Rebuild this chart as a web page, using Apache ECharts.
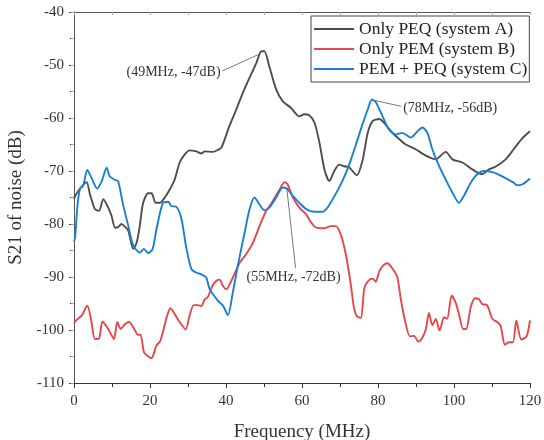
<!DOCTYPE html>
<html>
<head>
<meta charset="utf-8">
<script src="https://cdn.jsdelivr.net/npm/echarts@6/dist/echarts.min.js"></script>
<style>
html,body{margin:0;padding:0;background:#fff;}
#chart{width:544px;height:440px;}
</style>
</head>
<body>
<div id="chart"></div>
<script>
// ---- Data (frequency MHz, S21 dB) ----
var legendNames = ['Only PEQ (system A)', 'Only PEM (system B)', 'PEM + PEQ (system C)'];
var xTicks = [0, 20, 40, 60, 80, 100, 120];
var yTicks = [-110, -100, -90, -80, -70, -60, -50, -40];

var seriesA = [[0,-75.2],[0.3,-74.7],[1.6,-73.3],[3.3,-72.1],[4.2,-74.4],[5.5,-77.2],[6.6,-77.5],[7.7,-75.3],[9.0,-76.9],[9.9,-78.5],[10.8,-80.7],[11.6,-80.6],[12.5,-80.0],[13.4,-80.5],[14.3,-81.3],[15.6,-84.7],[16.5,-83.5],[17.3,-80.4],[18.2,-76.0],[19.5,-74.2],[20.4,-74.2],[21.5,-76.0],[22.6,-76.0],[23.9,-75.0],[25.2,-73.5],[26.5,-71.6],[27.8,-68.4],[29.1,-66.9],[30.4,-66.1],[32.2,-66.3],[33.5,-66.7],[34.4,-66.3],[36.6,-66.4],[37.9,-66.0],[38.8,-65.6],[40.9,-61.5],[42.7,-58.4],[44.4,-55.3],[46.2,-52.4],[48.0,-49.6],[49.3,-47.4],[50.1,-47.4],[51.4,-50.3],[53.2,-54.6],[54.9,-56.8],[57.1,-58.1],[59.3,-59.7],[60.6,-59.3],[61.9,-59.5],[63.3,-60.9],[64.6,-64.7],[65.9,-69.7],[67.2,-71.9],[68.5,-70.0],[69.8,-68.8],[71.1,-69.1],[72.4,-69.3],[74.4,-70.8],[75.9,-68.1],[77.3,-62.8],[78.6,-60.6],[80.3,-60.2],[81.6,-60.9],[83.4,-62.5],[85.6,-64.0],[87.3,-65.0],[89.9,-65.9],[92.6,-67.1],[95.2,-67.8],[97.8,-66.4],[99.6,-67.8],[102.2,-68.4],[104.8,-69.7],[107.4,-70.6],[109.2,-69.7],[110.9,-69.2],[113.6,-67.8],[115.7,-65.9],[118,-63.8],[120,-62.5]];

var seriesB = [[0,-98.8],[0.5,-98.2],[2.0,-97.3],[3.5,-95.4],[4.6,-98.5],[5.5,-101.7],[6.6,-101.6],[7.5,-98.4],[9.0,-99.8],[10.5,-101.7],[11.4,-98.5],[12.3,-99.8],[13.4,-98.9],[14.5,-98.5],[15.6,-99.5],[16.9,-100.9],[17.5,-100.9],[18.4,-104.2],[19.2,-104.8],[20.4,-105.3],[21.7,-102.9],[22.6,-102.2],[23.4,-100.4],[24.5,-97.3],[25.4,-95.9],[26.5,-97.0],[27.8,-98.5],[29.4,-99.9],[30.4,-97.3],[31.5,-95.3],[32.6,-95.3],[33.5,-95.5],[34.4,-94.2],[35.2,-93.8],[36.4,-91.7],[37.5,-90.7],[38.3,-90.5],[39.2,-91.7],[40.1,-92.3],[41.8,-90.1],[43.6,-87.3],[45.3,-85.7],[47.1,-83.5],[48.8,-80.4],[50.6,-77.5],[52.3,-75.7],[54.1,-73.5],[55.4,-72.1],[56.2,-72.5],[57.6,-75.0],[59.3,-76.9],[61.1,-78.2],[62.4,-79.7],[63.7,-80.7],[65.9,-80.8],[67.6,-80.4],[68.9,-80.4],[70.3,-82.2],[71.6,-86.0],[72.9,-91.7],[73.6,-95.5],[74.4,-97.4],[75.5,-97.7],[76.4,-92.1],[77.5,-90.7],[78.6,-90.3],[79.4,-90.9],[80.3,-89.0],[81.4,-87.8],[82.5,-87.4],[83.8,-88.4],[85.1,-90.1],[86.0,-94.2],[87.1,-98.2],[88.4,-101.2],[89.5,-101.1],[90.6,-102.2],[91.7,-101.4],[92.6,-99.8],[93.4,-96.8],[94.3,-99.1],[95.2,-97.9],[96.2,-100.1],[97.4,-97.6],[98.2,-97.9],[99.4,-93.5],[100.4,-94.8],[101.3,-97.0],[102.4,-99.8],[103.2,-99.8],[104.4,-95.7],[105.5,-94.0],[106.6,-94.2],[107.4,-95.1],[108.7,-95.3],[110.1,-97.9],[111.4,-98.5],[112.3,-99.3],[113.4,-102.8],[114.4,-102.3],[115.5,-102.3],[116.4,-98.2],[117.7,-101.8],[119.1,-101.2],[120,-98.2]];

var seriesC = [[0,-83.3],[0.3,-82.5],[0.9,-76.6],[1.6,-73.3],[2.4,-72.8],[3.5,-69.8],[4.6,-71.3],[6.1,-73.3],[7.3,-71.9],[8.6,-69.4],[9.4,-71.0],[10.8,-71.7],[11.6,-71.9],[12.9,-76.3],[14.3,-80.4],[15.6,-84.1],[17.3,-85.4],[18.4,-84.7],[19.5,-85.5],[20.7,-84.7],[21.7,-81.0],[23.4,-76.0],[24.8,-75.8],[25.6,-76.6],[27.0,-76.8],[28.3,-79.1],[29.6,-84.7],[30.9,-88.5],[32.0,-89.1],[33.5,-89.5],[34.8,-90.1],[35.7,-92.3],[37.9,-94.5],[39.2,-95.4],[40.5,-97.2],[41.8,-92.9],[43.1,-87.9],[44.9,-81.6],[46.2,-77.2],[47.5,-75.0],[48.8,-76.3],[50.1,-77.4],[51.4,-76.9],[53.2,-75.0],[54.9,-73.1],[56.0,-73.3],[57.6,-74.7],[59.3,-76.0],[61.1,-77.2],[63.3,-77.7],[65.4,-77.7],[66.7,-76.9],[68.1,-75.3],[69.8,-73.1],[71.6,-70.3],[72.9,-67.8],[74.2,-65.0],[75.9,-61.2],[77.3,-58.4],[78.4,-56.5],[79.4,-57.0],[81.2,-59.7],[82.9,-62.2],[84.7,-63.1],[86.4,-62.8],[88.6,-63.7],[90.4,-62.5],[91.7,-61.8],[93.0,-62.8],[94.3,-65.9],[96.1,-69.1],[97.8,-71.6],[99.6,-74.1],[101.3,-76.0],[102.6,-74.7],[104.4,-72.2],[106.1,-70.6],[107.9,-70.0],[110.1,-70.2],[112.7,-71.0],[115.7,-72.2],[116.6,-72.7],[118,-72.5],[120,-71.4]];

// annotations: [label, peak point, text anchor point]
var annotA = ['(49MHz, -47dB)', [48.6, -48.0], [39.1, -51.1]];
var annotC = ['(78MHz, -56dB)', [79.2, -56.7], [86.1, -57.8]];
var annotB = ['(55MHz, -72dB)', [56.0, -73.3], [58.3, -88.3]];

var colors = ['#4d4d4d', '#e5474b', '#1a7fd4'];
var serif = '"Liberation Serif", "DejaVu Serif", serif';

function annot(a, align, dx, dy) {
  return {
    markLine: {
      silent: true, symbol: 'none', animation: false,
      lineStyle: {color: '#555', width: 0.8, type: 'solid'},
      label: {show: false},
      data: [[{coord: a[1]}, {coord: a[2]}]]
    },
    markPoint: {
      silent: true, symbol: 'circle', symbolSize: 0, animation: false,
      label: {show: true, formatter: a[0], fontFamily: serif, fontSize: 14, color: '#333',
              align: align, verticalAlign: 'middle', offset: [dx, dy]},
      data: [{coord: a[2]}]
    }
  };
}

var chart = echarts.init(document.getElementById('chart'), null, {renderer: 'canvas'});

function mk(name, data, color, an) {
  var s = {
    name: name, type: 'line', data: data, symbol: 'none', smooth: 0.25,
    lineStyle: {color: color, width: 1.9}, itemStyle: {color: color},
    animation: false, z: 2
  };
  if (an) { s.markLine = an.markLine; s.markPoint = an.markPoint; }
  return s;
}

var option = {
  backgroundColor: '#fff',
  grid: {left: 74, right: 14, top: 12, bottom: 57, outerBoundsMode: 'none', containLabel: false},
  legend: {
    data: legendNames.map(function (n) { return {name: n, icon: 'rect'}; }),
    orient: 'vertical', left: 311, top: 16,
    backgroundColor: '#fff',
    borderColor: '#444', borderWidth: 1, borderRadius: 0,
    padding: [4, 2, 4, 3], itemWidth: 40, itemHeight: 2, itemGap: 2,
    textStyle: {fontFamily: serif, fontSize: 17.5, color: '#222', lineHeight: 18}
  },
  xAxis: [{
    type: 'value', min: 0, max: 120, interval: 20,
    name: 'Frequency (MHz)', nameLocation: 'middle', nameGap: 40,
    nameTextStyle: {fontFamily: serif, fontSize: 19, color: '#333'},
    axisLine: {show: true, lineStyle: {color: '#333', width: 1}},
    axisTick: {show: true, length: 5, lineStyle: {color: '#333'}},
    minorTick: {show: true, splitNumber: 2, length: 4, lineStyle: {color: '#333'}},
    axisLabel: {fontFamily: serif, fontSize: 15, color: '#333', margin: 11,
      formatter: function (v) { return xTicks.indexOf(v) >= 0 ? String(v) : ''; }},
    splitLine: {show: false}
  }, {
    type: 'value', min: 0, max: 120, interval: 20, position: 'top',
    axisLine: {show: true, lineStyle: {color: '#555', width: 1}},
    axisTick: {show: true, inside: true, length: 3, lineStyle: {color: '#aaa'}},
    minorTick: {show: true, splitNumber: 2, length: 3, lineStyle: {color: '#aaa'}},
    axisLabel: {show: false}, splitLine: {show: false}
  }],
  yAxis: [{
    type: 'value', min: -110, max: -40, interval: 10,
    name: 'S21 of noise (dB)', nameLocation: 'middle', nameGap: 47,
    nameTextStyle: {fontFamily: serif, fontSize: 19, color: '#333'},
    axisLine: {show: true, lineStyle: {color: '#333', width: 1}},
    axisTick: {show: true, length: 5, lineStyle: {color: '#333'}},
    minorTick: {show: true, splitNumber: 2, length: 4, lineStyle: {color: '#333'}},
    axisLabel: {fontFamily: serif, fontSize: 15, color: '#333', margin: 10,
      formatter: function (v) { return yTicks.indexOf(v) >= 0 ? String(v) : ''; }},
    splitLine: {show: false}
  }, {
    type: 'value', min: -110, max: -40, interval: 10, position: 'right',
    axisLine: {show: true, lineStyle: {color: '#555', width: 1}},
    axisTick: {show: true, inside: true, length: 3, lineStyle: {color: '#aaa'}},
    minorTick: {show: true, splitNumber: 2, length: 3, lineStyle: {color: '#aaa'}},
    axisLabel: {show: false}, splitLine: {show: false}
  }],
  series: [
    mk(legendNames[0], seriesA, colors[0], annot(annotA, 'right', -2, 1)),
    mk(legendNames[1], seriesB, colors[1], annot(annotB, 'center', -2, 9)),
    mk(legendNames[2], seriesC, colors[2], annot(annotC, 'left', 2, 2))
  ]
};
chart.setOption(option);
</script>
</body>
</html>
